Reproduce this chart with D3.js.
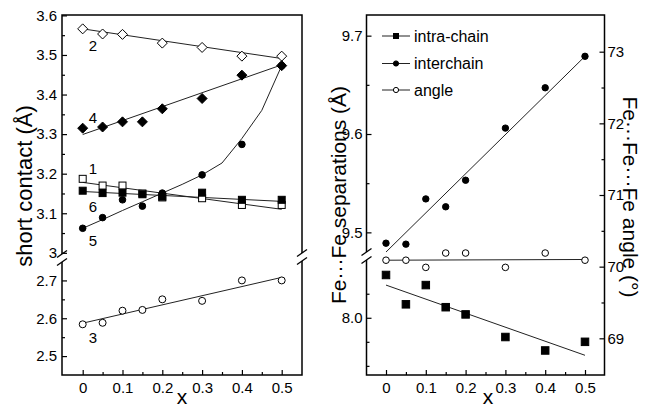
<!DOCTYPE html>
<html>
<head>
<meta charset="utf-8">
<script src="https://cdn.jsdelivr.net/npm/d3@7"></script>
<style>
body { margin: 0; background: #fff; }
text { font-family: Arial, "Liberation Sans", sans-serif; }
</style>
</head>
<body>
<div class="container"></div>
<script>
var xs = [0, 0.05, 0.1, 0.15, 0.2, 0.3, 0.4, 0.5];

// left panel, short contacts 1..6
var contact1 = [3.187, 3.170, 3.170, 3.150, 3.140, 3.138, 3.121, 3.121];
var contact2 = [3.566, 3.553, 3.552, null, 3.530, 3.519, 3.497, 3.497];
var contact3 = [2.584, 2.588, 2.620, 2.622, 2.650, 2.646, 2.700, 2.700];
var contact4 = [3.315, 3.318, 3.331, 3.331, 3.364, 3.390, 3.449, 3.473];
var contact5 = [3.062, 3.089, 3.134, 3.118, 3.151, 3.197, 3.274, 3.473];
var contact6 = [3.157, 3.151, 3.152, 3.148, 3.142, 3.152, 3.134, 3.134];

// fitted lines (values at x = 0 and x = 0.5)
var fitX = [0, 0.5];
var fit1 = [3.178, 3.110];
var fit2 = [3.566, 3.491];
var fit3 = [2.587, 2.708];
var fit4 = [3.299, 3.475];
var fit6 = [3.155, 3.130];
var curveX5 = [0, 0.05, 0.1, 0.15, 0.2, 0.25, 0.3, 0.35, 0.4, 0.45, 0.5];
var curve5 = [3.062, 3.084, 3.107, 3.129, 3.151, 3.173, 3.197, 3.227, 3.289, 3.360, 3.473];

// right panel
var intra = [8.089, 8.028, 8.068, 8.022, 8.007, 7.960, 7.932, 7.950];
var inter = [9.489, 9.488, 9.534, 9.526, 9.553, 9.606, 9.647, 9.679];
var angle = [70.09, 70.09, 69.99, 70.19, 70.19, 69.99, 70.19, 70.09];
var fitIntra = [8.068, 7.922];
var fitInter = [9.480, 9.679];
var fitAngle = [70.09, 70.10];

var legendNames = ["intra-chain", "interchain", "angle"];

// ticks
var xTicks = [0, 0.1, 0.2, 0.3, 0.4, 0.5];
var xMinor = [0.05, 0.15, 0.25, 0.35, 0.45];
var contactTicksUp = [3.0, 3.1, 3.2, 3.3, 3.4, 3.5, 3.6];
var contactMinorUp = [3.05, 3.15, 3.25, 3.35, 3.45, 3.55];
var contactTicksLow = [2.5, 2.6, 2.7];
var contactMinorLow = [2.55, 2.65];
var sepTicksUp = [9.5, 9.6, 9.7];
var sepMinorUp = [9.55, 9.65];
var sepTicksLow = [8.0];
var sepMinorLow = [7.9, 7.95, 8.05];
var angTicks = [69, 70, 71, 72, 73];
var angMinor = [69.5, 70.5, 71.5, 72.5];

var W = 647, H = 410;
var svg = d3.select('.container').append('svg').attr('width', W).attr('height', H);

var plotTop = 15, plotBottom = 375;
var L = {left: 62, right: 302};
var R = {left: 366.5, right: 604.5};

var xL = d3.scaleLinear().domain([-0.052, 0.551]).range([L.left, L.right]);
var xR = d3.scaleLinear().domain([-0.049, 0.549]).range([R.left, R.right]);

var yLUp = d3.scaleLinear().domain([2.992, 3.601]).range([256, plotTop]);
var yLLow = d3.scaleLinear().domain([2.45, 2.754]).range([plotBottom, 260]);
var yRUp = d3.scaleLinear().domain([9.478, 9.721]).range([254, plotTop]);
var yRLow = d3.scaleLinear().domain([7.881, 8.116]).range([plotBottom, 262]);
var yAng = d3.scaleLinear().domain([68.488, 73.512]).range([plotBottom, plotTop]);

var fmt = function(d){ return d === 3 ? "3" : d3.format(".1f")(d); };
var fmtX = function(d){ return d === 0 ? "0" : d3.format(".1f")(d); };

function styleAxis(g){
    g.select(".domain").remove();
    g.selectAll("line").attr("stroke", "#000").attr("stroke-width", 1.2);
    g.selectAll("text").attr("font-size", 15).attr("fill", "#000")
     .attr("font-family", "Arial, 'Liberation Sans', sans-serif");
}

function drawAxis(axisFn, scale, pos, major, minor, format, pad){
    var gMaj = svg.append("g").attr("transform", pos);
    gMaj.call(axisFn(scale).tickValues(major).tickSize(-5).tickPadding(pad).tickFormat(format));
    styleAxis(gMaj);
    if (minor){
        var gMin = svg.append("g").attr("transform", pos);
        gMin.call(axisFn(scale).tickValues(minor).tickSize(-3).tickFormat(""));
        styleAxis(gMin);
    }
}

function frame(p){
    svg.append("rect").attr("x", p.left).attr("y", plotTop)
       .attr("width", p.right - p.left).attr("height", plotBottom - plotTop)
       .attr("fill", "none").attr("stroke", "#000").attr("stroke-width", 1.5);
}

function axisBreak(x, yc){
    svg.append("rect").attr("x", x - 3).attr("y", yc - 4).attr("width", 6).attr("height", 8).attr("fill", "#fff");
    [-4, 4].forEach(function(o){
        svg.append("line")
           .attr("x1", x - 5).attr("y1", yc + o + 3.5)
           .attr("x2", x + 5).attr("y2", yc + o - 3.5)
           .attr("stroke", "#000").attr("stroke-width", 1.3);
    });
}

function diamondPath(s){
    return "M0," + (-s) + "L" + s + ",0L0," + s + "L" + (-s) + ",0Z";
}

function drawMarkers(xsc, ysc, vals, shape, filled, size){
    var pts = [];
    for (var i = 0; i < xs.length; i++){
        if (vals[i] !== null) pts.push({x: xs[i], y: vals[i]});
    }
    var g = svg.append("g");
    var sel = g.selectAll("x").data(pts).enter();
    var fill = filled ? "#000" : "#fff";
    if (shape === "square"){
        sel.append("rect")
           .attr("x", function(d){ return xsc(d.x) - size/2; })
           .attr("y", function(d){ return ysc(d.y) - size/2; })
           .attr("width", size).attr("height", size)
           .attr("fill", fill).attr("stroke", "#000").attr("stroke-width", 1);
    } else if (shape === "circle"){
        sel.append("circle")
           .attr("cx", function(d){ return xsc(d.x); })
           .attr("cy", function(d){ return ysc(d.y); })
           .attr("r", size)
           .attr("fill", fill).attr("stroke", "#000").attr("stroke-width", 1);
    } else {
        sel.append("path")
           .attr("transform", function(d){ return "translate(" + xsc(d.x) + "," + ysc(d.y) + ")"; })
           .attr("d", diamondPath(size))
           .attr("fill", fill).attr("stroke", "#000").attr("stroke-width", 1);
    }
}

function drawLine(xsc, ysc, xv, yv){
    var pts = xv.map(function(d, i){ return [xsc(d), ysc(yv[i])]; });
    svg.append("path").attr("d", d3.line()(pts))
       .attr("fill", "none").attr("stroke", "#222").attr("stroke-width", 1);
}

// ---------- left panel ----------
frame(L);
drawAxis(d3.axisLeft, yLUp, "translate(" + L.left + ",0)", contactTicksUp, contactMinorUp, fmt, 5);
drawAxis(d3.axisLeft, yLLow, "translate(" + L.left + ",0)", contactTicksLow, contactMinorLow, fmt, 5);
drawAxis(d3.axisBottom, xL, "translate(0," + plotBottom + ")", xTicks, xMinor, fmtX, 7);
axisBreak(L.left, 258);
axisBreak(L.right, 257);

drawLine(xL, yLUp, fitX, fit2);
drawLine(xL, yLUp, fitX, fit4);
drawLine(xL, yLUp, fitX, fit1);
drawLine(xL, yLUp, fitX, fit6);
drawLine(xL, yLUp, curveX5, curve5);
drawLine(xL, yLLow, fitX, fit3);

drawMarkers(xL, yLUp, contact2, "diamond", false, 5);
drawMarkers(xL, yLUp, contact4, "diamond", true, 5);
drawMarkers(xL, yLUp, contact5, "circle", true, 3.3);
drawMarkers(xL, yLUp, contact1, "square", false, 7);
drawMarkers(xL, yLUp, contact6, "square", true, 7);
drawMarkers(xL, yLLow, contact3, "circle", false, 3.5);

var seriesLabels = [
    {t: "1", y: yLUp(contact1[0]) - 10},
    {t: "2", y: yLUp(contact2[0]) + 17},
    {t: "3", y: yLLow(contact3[0]) + 13},
    {t: "4", y: yLUp(contact4[0]) - 11},
    {t: "5", y: yLUp(contact5[0]) + 12},
    {t: "6", y: yLUp(contact6[0]) + 16}
];
svg.selectAll(".slab").data(seriesLabels).enter().append("text")
   .attr("x", xL(0) + 6).attr("y", function(d){ return d.y; })
   .attr("dy", "0.36em").attr("font-size", 15)
   .text(function(d){ return d.t; });

svg.append("text").attr("transform", "translate(24,186) rotate(-90)")
   .attr("text-anchor", "middle").attr("dy", "0.36em").attr("font-size", 22)
   .text("short contact (Å)");
svg.append("text").attr("x", (L.left + L.right) / 2).attr("y", 404)
   .attr("text-anchor", "middle").attr("font-size", 21).text("x");

// ---------- right panel ----------
frame(R);
drawAxis(d3.axisLeft, yRUp, "translate(" + R.left + ",0)", sepTicksUp, sepMinorUp, function(d){ return d.toFixed(1); }, 4);
drawAxis(d3.axisLeft, yRLow, "translate(" + R.left + ",0)", sepTicksLow, sepMinorLow, function(d){ return d.toFixed(1); }, 4);
drawAxis(d3.axisRight, yAng, "translate(" + R.right + ",0)", angTicks, angMinor, d3.format("d"), 3);
drawAxis(d3.axisBottom, xR, "translate(0," + plotBottom + ")", xTicks, xMinor, fmtX, 7);
axisBreak(R.left, 256);

drawLine(xR, yRUp, fitX, fitInter);
drawLine(xR, yAng, fitX, fitAngle);
drawLine(xR, yRLow, fitX, fitIntra);

drawMarkers(xR, yRUp, inter, "circle", true, 3.2);
drawMarkers(xR, yAng, angle, "circle", false, 3.3);
drawMarkers(xR, yRLow, intra, "square", true, 7.5);

// legend
var legY = [36, 63.5, 90];
var leg = svg.append("g");
legendNames.forEach(function(name, i){
    var y = legY[i];
    leg.append("line").attr("x1", 382).attr("x2", 410).attr("y1", y).attr("y2", y)
       .attr("stroke", "#222").attr("stroke-width", 1);
    if (i === 0){
        leg.append("rect").attr("x", 393).attr("y", y - 3).attr("width", 6).attr("height", 6).attr("fill", "#000");
    } else {
        leg.append("circle").attr("cx", 396).attr("cy", y).attr("r", 2.6)
           .attr("fill", i === 1 ? "#000" : "#fff").attr("stroke", "#000").attr("stroke-width", 1);
    }
    leg.append("text").attr("x", 414).attr("y", y).attr("dy", "0.36em")
       .attr("font-size", 16).text(name);
});

svg.append("text").attr("transform", "translate(338,195) rotate(-90)")
   .attr("text-anchor", "middle").attr("dy", "0.36em").attr("font-size", 21)
   .text("Fe\u00B7\u00B7\u00B7Fe separations (Å)");
svg.append("text").attr("transform", "translate(631,197) rotate(90)")
   .attr("text-anchor", "middle").attr("dy", "0.36em").attr("font-size", 21)
   .text("Fe\u00B7\u00B7\u00B7Fe\u00B7\u00B7\u00B7Fe angle (°)");
svg.append("text").attr("x", 488).attr("y", 404)
   .attr("text-anchor", "middle").attr("font-size", 21).text("x");
</script>
</body>
</html>
